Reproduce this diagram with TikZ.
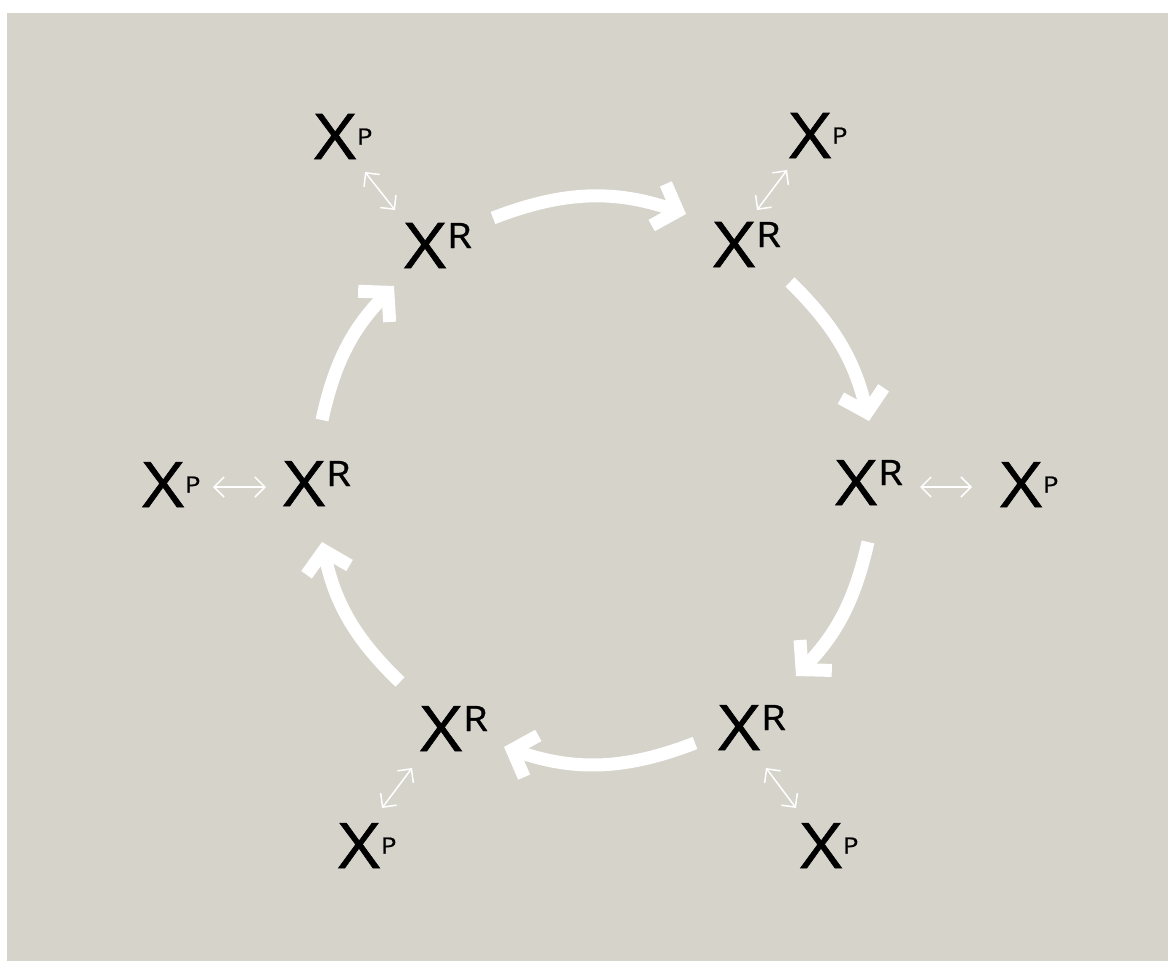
\documentclass[tikz,border=0pt]{standalone}
\usepackage{fontspec}
\setmainfont{Open Sans}[FakeStretch=1.15,FakeBold=0.9]
\usetikzlibrary{arrows.meta}
\definecolor{bg}{RGB}{214,211,203}
\newcommand{\labR}{{\fontsize{63}{63}\selectfont X\kern1pt\raisebox{20pt}{\fontsize{35}{35}\selectfont R}}}
\newcommand{\labP}{{\fontsize{63}{63}\selectfont X\kern1pt\raisebox{14.5pt}{\fontsize{22.4}{22.4}\selectfont P}}}
\begin{document}
\begin{tikzpicture}[x=1pt,y=-1pt,
  lab/.style={inner sep=0pt, anchor=base west, text=black},
  flow/.style={white, line width=13pt, -{Straight Barb[length=20pt,width=44pt]}},
  link/.style={white, line width=1.5pt, {Straight Barb[length=10pt,width=20pt]}-{Straight Barb[length=10pt,width=20pt]}}]
\useasboundingbox (0,0) rectangle (1168,961);
\fill[white] (0,0) rectangle (1168,961);
\fill[bg] (7,13) rectangle (1168,961);
% reaction nodes
\node[lab] (r1) at (404,268) {\labR};
\node[lab] (r2) at (713,267) {\labR};
\node[lab] (r3) at (835,505) {\labR};
\node[lab] (r4) at (718,750) {\labR};
\node[lab] (r5) at (420,751) {\labR};
\node[lab] (r6) at (283,506) {\labR};
% product nodes
\node[lab] (p1) at (314,159) {\labP};
\node[lab] (p2) at (789,158) {\labP};
\node[lab] (p3) at (1000,507) {\labP};
\node[lab] (p4) at (800,868) {\labP};
\node[lab] (p5) at (338,868) {\labP};
\node[lab] (p6) at (142,507) {\labP};
% cycle arrow ends
\coordinate (a1s) at (493,218); \coordinate (a1e) at (686,214);
\coordinate (a2s) at (790,282); \coordinate (a2e) at (869,421);
\coordinate (a3s) at (868,542); \coordinate (a3e) at (796,676);
\coordinate (a4s) at (695,743); \coordinate (a4e) at (504,747);
\coordinate (a5s) at (400,682); \coordinate (a5e) at (322,542);
\coordinate (a6s) at (322,420); \coordinate (a6e) at (394,286);
\draw[flow] (a1s) to[bend left=20] (a1e);
\draw[flow] (a2s) to[bend left=16] (a2e);
\draw[flow] (a3s) to[bend left=15.5] (a3e);
\draw[flow] (a4s) to[bend left=20] (a4e);
\draw[flow] (a5s) to[bend left=17] (a5e);
\draw[flow] (a6s) to[bend left=16] (a6e);
% exchange arrow ends
\coordinate (d1a) at (365,172); \coordinate (d1b) at (395,210);
\coordinate (d2a) at (787,170); \coordinate (d2b) at (757,210);
\coordinate (d3a) at (920,487); \coordinate (d3b) at (972,487);
\coordinate (d4a) at (766,768); \coordinate (d4b) at (796,808);
\coordinate (d5a) at (412,768); \coordinate (d5b) at (382,808);
\coordinate (d6a) at (213,487); \coordinate (d6b) at (266,487);
\draw[link] (d1a) -- (d1b);
\draw[link] (d2a) -- (d2b);
\draw[link] (d3a) -- (d3b);
\draw[link] (d4a) -- (d4b);
\draw[link] (d5a) -- (d5b);
\draw[link] (d6a) -- (d6b);
\end{tikzpicture}
\end{document}
